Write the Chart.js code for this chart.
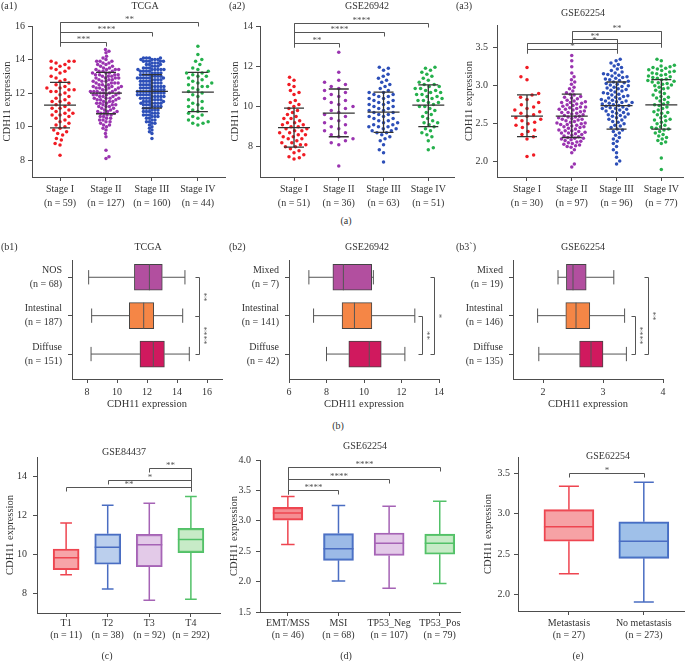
<!DOCTYPE html>
<html>
<head>
<meta charset="utf-8">
<title>CDH11 expression</title>
<script src="https://cdn.jsdelivr.net/npm/chart.js@4.4.1/dist/chart.umd.min.js"></script>
<style>
  body { margin: 0; background: #fff; }
  #page { position: relative; width: 685px; height: 661px; overflow: hidden; background: #fff;
          font-family: "Liberation Serif", "DejaVu Serif", serif; color: #333; }
  #page canvas { position: absolute; }
  .lbl { position: absolute; white-space: nowrap; line-height: 1; }
</style>
</head>
<body>
<div id="page"></div>
<script>
// ---------- data ----------
const stageNames = ['Stage I', 'Stage II', 'Stage III', 'Stage IV'];
const stageColors = ['#f01c24', '#9a34b0', '#2d4fb8', '#25b04c'];

// (a1) TCGA
const a1Counts = [59, 127, 160, 44];
const a1StageI = [8.3,8.9,9.0,9.2,9.3,9.5,9.6,9.7,9.8,9.9,10.0,10.1,10.2,10.3,10.4,10.5,10.6,10.7,10.7,10.8,10.8,10.9,11.0,11.1,11.1,11.2,11.3,11.4,11.5,11.5,11.6,11.7,11.8,11.9,12.0,12.1,12.1,12.2,12.2,12.3,12.3,12.4,12.5,12.6,12.7,12.8,12.9,13.0,13.2,13.3,13.4,13.5,13.5,13.6,13.7,13.8,13.9,13.9,13.9];
const a1StageII = [8.1,8.2,8.6,9.4,9.6,9.8,9.9,10.0,10.1,10.1,10.2,10.3,10.3,10.4,10.4,10.5,10.5,10.6,10.6,10.7,10.7,10.8,10.8,10.8,10.9,10.9,10.9,
  11.0,11.0,11.1,11.1,11.2,11.2,11.2,11.3,11.3,11.3,11.4,11.4,11.4,11.5,11.5,11.5,11.6,11.6,11.6,11.7,11.7,11.7,11.7,11.8,11.8,11.8,11.9,11.9,11.9,11.9,
  12.0,12.0,12.0,12.0,12.1,12.1,12.1,12.1,12.2,12.2,12.2,12.3,12.3,12.3,12.3,12.4,12.4,12.4,12.4,12.5,12.5,12.5,12.6,12.6,12.6,12.6,12.7,12.7,12.7,12.8,12.8,12.8,12.9,12.9,12.9,12.9,
  13.0,13.0,13.0,13.1,13.1,13.1,13.1,13.2,13.2,13.2,13.3,13.3,13.3,13.4,13.4,13.4,13.4,13.5,13.5,13.6,13.6,13.7,13.7,13.8,13.8,13.9,13.9,13.9,14.0,14.1,14.2,14.4,14.5,14.6];
const a1StageIII = [9.3,9.6,9.7,9.8,9.9,10.0,10.1,10.2,10.2,10.3,10.3,10.4,10.4,10.5,10.5,10.6,10.6,10.6,10.7,10.7,10.7,10.8,10.8,10.8,10.9,10.9,10.9,
  11.0,11.0,11.0,11.1,11.1,11.1,11.2,11.2,11.2,11.2,11.3,11.3,11.3,11.4,11.4,11.4,11.4,11.4,
  11.5,11.5,11.5,11.5,11.6,11.6,11.6,11.6,11.7,11.7,11.7,11.7,11.8,11.8,11.8,11.8,11.8,11.9,11.9,11.9,11.9,11.9,
  12.0,12.0,12.0,12.0,12.0,12.1,12.1,12.1,12.1,12.1,12.2,12.2,12.2,12.2,12.2,12.3,12.3,12.3,12.3,12.4,12.4,12.4,12.4,12.4,
  12.5,12.5,12.5,12.5,12.6,12.6,12.6,12.6,12.7,12.7,12.7,12.7,12.8,12.8,12.8,12.8,12.9,12.9,12.9,12.9,12.9,12.9,
  13.0,13.0,13.0,13.0,13.1,13.1,13.1,13.1,13.2,13.2,13.2,13.2,13.3,13.3,13.3,13.3,13.4,13.4,13.4,13.4,13.4,13.4,
  13.5,13.5,13.5,13.6,13.6,13.6,13.7,13.7,13.7,13.8,13.8,13.8,13.9,13.9,13.9,13.9,13.9,14.0,14.0,14.0,14.0,14.1,14.1,14.1,14.1];
const a1StageIV = [10.1,10.2,10.2,10.3,10.4,10.5,10.6,10.7,10.8,10.9,11.0,11.1,11.2,11.3,11.4,11.5,11.6,11.8,11.9,
  12.0,12.1,12.2,12.3,12.4,12.4,12.5,12.6,12.6,12.7,12.8,12.9,13.0,13.0,13.1,13.2,13.2,13.3,13.4,13.5,13.7,13.9,14.0,14.3,14.8];
const a1Mean = [11.28, 12.0, 12.1, 12.06];
const a1SdLo = [9.93, 10.77, 11.1, 10.9];
const a1SdHi = [12.64, 13.23, 13.1, 13.23];
const a1Sig = [{ from: 0, to: 1, at: 15.04, text: '***' }, { from: 0, to: 2, at: 15.64, text: '****' }, { from: 0, to: 3, at: 16.24, text: '**' }];

// (a2) GSE26942
const a2Counts = [51, 36, 63, 51];
const a2StageI = [7.4,7.45,7.5,7.6,7.7,7.8,7.9,8.0,8.0,8.1,8.1,8.2,8.2,8.3,8.4,8.4,8.5,8.5,8.6,8.6,8.7,8.7,8.8,8.8,8.9,8.9,
  9.0,9.0,9.1,9.1,9.2,9.2,9.3,9.4,9.4,9.5,9.6,9.7,9.8,9.9,10.0,10.1,10.2,10.3,10.6,10.7,10.8,11.0,11.1,11.3,11.45];
const a2StageII = [7.05,8.1,8.2,8.3,8.4,8.5,8.6,8.7,8.8,8.9,9.0,9.1,9.2,9.3,9.4,9.5,9.6,9.7,9.8,9.9,10.0,10.1,10.2,10.3,10.4,10.5,10.6,10.7,10.8,10.9,11.0,11.1,11.2,11.3,11.7,12.7];
const a2StageIII = [7.25,7.7,7.85,8.1,8.3,8.4,8.5,8.6,8.7,8.7,8.8,8.8,8.9,8.9,9.0,9.0,9.0,9.1,9.1,9.2,9.2,9.3,9.3,9.4,9.4,9.5,9.5,9.6,9.6,9.7,9.7,9.8,9.8,9.9,9.9,
  10.0,10.0,10.1,10.1,10.2,10.2,10.3,10.3,10.4,10.4,10.5,10.5,10.6,10.6,10.7,10.7,10.8,10.9,11.0,11.1,11.2,11.3,11.4,11.5,11.6,11.8,11.9,11.95];
const a2StageIV = [7.85,7.95,8.3,8.5,8.6,8.7,8.8,8.9,9.0,9.1,9.2,9.2,9.3,9.4,9.5,9.6,9.7,9.8,9.9,10.0,10.0,10.1,10.2,10.2,10.3,10.3,10.4,10.4,10.5,10.5,
  10.6,10.6,10.7,10.7,10.8,10.8,10.9,10.9,11.0,11.0,11.1,11.1,11.2,11.3,11.4,11.5,11.6,11.7,11.8,11.9,11.95];
const a2Mean = [8.95, 9.67, 9.72, 10.07];
const a2SdLo = [7.98, 8.5, 8.72, 9.0];
const a2SdHi = [9.92, 10.87, 10.72, 11.08];
const a2Sig = [{ from: 0, to: 1, at: 13.15, text: '**' }, { from: 0, to: 2, at: 13.7, text: '****' }, { from: 0, to: 3, at: 14.15, text: '****' }];

// (a3) GSE62254
const a3Counts = [30, 97, 96, 77];
const a3StageI = [2.07,2.09,2.30,2.33,2.36,2.40,2.42,2.45,2.48,2.50,2.52,2.54,2.56,2.58,2.60,2.62,2.64,2.66,2.68,2.70,2.72,2.75,2.78,2.82,2.85,2.88,2.90,3.08,3.12,3.24];
const a3StageII = [1.93,1.97,2.12,2.16,2.19,2.20,2.21,2.22,2.23,2.24,2.25,2.26,2.27,2.28,2.29,
  2.30,2.31,2.31,2.32,2.33,2.34,2.35,2.36,2.37,2.38,2.38,2.39,2.40,2.41,2.41,2.42,2.43,2.44,2.45,2.46,2.46,2.47,2.48,2.49,2.49,
  2.50,2.51,2.51,2.52,2.53,2.54,2.55,2.56,2.56,2.57,2.58,2.59,2.59,2.60,2.61,2.62,2.63,2.64,2.65,2.65,2.66,2.67,2.68,2.69,2.69,
  2.70,2.71,2.72,2.72,2.73,2.74,2.75,2.76,2.77,2.78,2.78,2.79,2.80,2.81,2.83,2.84,2.85,2.86,2.88,2.89,
  2.91,2.93,2.96,2.98,3.02,3.05,3.08,3.12,3.17,3.25,3.33,3.40];
const a3StageIII = [1.97,2.01,2.06,2.12,2.16,2.20,2.24,2.27,2.30,2.32,2.35,2.38,2.40,2.42,2.43,2.45,2.47,2.48,2.50,2.52,
  2.53,2.55,2.56,2.58,2.59,2.60,2.61,2.62,2.63,2.64,2.65,2.66,2.67,2.68,2.69,2.70,2.70,2.71,2.72,2.73,
  2.74,2.74,2.75,2.76,2.77,2.78,2.78,2.79,2.80,2.80,2.81,2.82,2.83,2.84,2.85,2.86,2.87,2.88,2.89,2.90,
  2.91,2.92,2.93,2.94,2.95,2.96,2.97,2.98,2.99,3.00,3.01,3.02,3.03,3.04,3.05,3.06,3.07,3.08,3.09,3.10,
  3.11,3.12,3.13,3.14,3.15,3.16,3.17,3.18,3.20,3.22,3.24,3.26,3.28,3.30,3.33,3.35];
const a3StageIV = [1.90,2.05,2.24,2.26,2.28,2.30,2.32,2.34,2.36,2.38,2.40,2.42,2.43,2.44,2.45,2.46,2.48,2.50,2.52,2.54,2.55,2.56,
  2.58,2.60,2.62,2.64,2.65,2.66,2.68,2.70,2.72,2.74,2.75,2.76,2.78,2.80,2.82,2.84,2.85,2.86,2.88,2.90,2.92,2.94,2.96,
  2.97,2.98,3.00,3.01,3.02,3.03,3.04,3.05,3.06,3.07,3.08,3.09,3.10,3.11,3.12,3.13,3.14,3.15,3.16,3.17,
  3.18,3.19,3.20,3.21,3.22,3.23,3.24,3.25,3.26,3.27,3.33,3.35];
const a3Mean = [2.6, 2.6, 2.74, 2.75];
const a3SdLo = [2.33, 2.32, 2.43, 2.43];
const a3SdHi = [2.88, 2.89, 3.05, 3.08];
const a3Sig = [{ from: 1, to: 3, at: 3.72, text: '**' }, { from: 1, to: 2, at: 3.62, text: '**' },
               { from: 0, to: 3, at: 3.566, text: '*' }, { from: 0, to: 2, at: 3.48, text: '*' }];

// (b) Lauren classification, horizontal boxes
const laurenColors = ['#b24f9f', '#f58646', '#d0195e'];
const b1Groups = ['NOS', 'Intestinal', 'Diffuse'];
const b1Counts = [68, 187, 151];
const b1Min = [8.11, 8.31, 8.27], b1Q1 = [11.16, 10.82, 11.53], b1Med = [12.16, 11.78, 12.42], b1Q3 = [13.02, 12.45, 13.16], b1Max = [14.53, 14.38, 14.82];
const b1Sig = [{ from: 0, to: 1, at: 15.45, text: '**' }, { from: 1, to: 2, at: 15.45, text: '****' }];

const b2Groups = ['Mixed', 'Intestinal', 'Diffuse'];
const b2Counts = [7, 141, 42];
const b2Min = [7.06, 7.31, 8.0], b2Q1 = [8.34, 8.83, 9.19], b2Med = [8.9, 9.49, 10.28], b2Q3 = [10.41, 10.42, 10.92], b2Max = [10.5, 12.71, 12.18];
const b2Sig = [{ from: 0, to: 2, at: 13.73, text: '*' }, { from: 1, to: 2, at: 13.12, text: '**' }];

const b3Groups = ['Mixed', 'Intestinal', 'Diffuse'];
const b3Counts = [19, 146, 135];
const b3Min = [2.25, 1.91, 1.93], b3Q1 = [2.39, 2.38, 2.61], b3Med = [2.5, 2.55, 2.8], b3Q3 = [2.72, 2.78, 3.0], b3Max = [3.18, 3.36, 3.39];
const b3Sig = [{ from: 0, to: 2, at: 3.75, text: '**' }, { from: 1, to: 2, at: 3.54, text: '****' }];

// (c) GSE84437 T stage
const cGroups = ['T1', 'T2', 'T3', 'T4'];
const cCounts = [11, 38, 92, 292];
const cMin = [8.96, 8.23, 7.65, 7.7], cQ1 = [9.22, 9.5, 9.37, 10.1], cMed = [9.83, 10.37, 10.5, 10.77], cQ3 = [10.28, 11.06, 11.03, 11.34], cMax = [11.62, 12.52, 12.63, 12.97];
const cSig = [{ from: 2, to: 3, at: 14.44, text: '**' }, { from: 1, to: 3, at: 13.82, text: '*' }, { from: 0, to: 3, at: 13.46, text: '**' }];

// (d) GSE62254 molecular subtype
const dGroups = ['EMT/MSS', 'MSI', 'TP53_Neg', 'TP53_Pos'];
const dCounts = [46, 68, 107, 79];
const dMin = [2.61, 2.01, 1.89, 1.97], dQ1 = [3.01, 2.35, 2.43, 2.45], dMed = [3.13, 2.54, 2.63, 2.63], dQ3 = [3.22, 2.79, 2.8, 2.78], dMax = [3.4, 3.25, 3.24, 3.32];
const dSig = [{ from: 0, to: 3, at: 3.885, text: '****' }, { from: 0, to: 2, at: 3.69, text: '****' }, { from: 0, to: 1, at: 3.51, text: '****' }];

// (e) GSE62254 metastasis
const eGroups = ['Metastasis', 'No metastasis'];
const eCounts = [27, 273];
const eMin = [2.26, 1.91], eQ1 = [2.66, 2.45], eMed = [2.84, 2.66], eQ3 = [3.05, 2.9], eMax = [3.34, 3.39];
const eSig = [{ from: 0, to: 1, at: 3.5, text: '*' }];

const boxStroke = ['#ee4550', '#4a6dc2', '#a563b5', '#52c168'];
const boxFillC = ['rgba(240,90,96,0.55)', 'rgba(120,160,220,0.5)', 'rgba(200,150,210,0.5)', 'rgba(130,210,130,0.45)'];
const boxFillD = ['rgba(240,80,88,0.65)', 'rgba(90,140,215,0.6)', 'rgba(200,150,210,0.5)', 'rgba(130,210,130,0.45)'];
const boxFillE = ['rgba(240,100,105,0.6)', 'rgba(80,140,215,0.55)'];

// ---------- helpers ----------
const AXIS = '#4d4d4d';
const TXT = '#333';
const FONT = '"Liberation Serif", "DejaVu Serif", serif';
Chart.defaults.font.family = FONT;
Chart.defaults.font.size = 10;
Chart.defaults.color = TXT;

const page = document.getElementById('page');

function makeCanvas(left, top, w, h) {
    const c = document.createElement('canvas');
    c.width = w; c.height = h;
    c.style.left = left + 'px'; c.style.top = top + 'px';
    c.style.width = w + 'px'; c.style.height = h + 'px';
    page.appendChild(c);
    return c;
}

function addText(txt, x, y, align, size) {
    const d = document.createElement('div');
    d.className = 'lbl';
    d.textContent = txt;
    d.style.left = x + 'px';
    d.style.top = y + 'px';
    d.style.fontSize = (size || 10) + 'px';
    d.style.transform = align === 'l' ? 'translate(0,-50%)' : 'translate(-50%,-50%)';
    page.appendChild(d);
}

// linear axis with fixed ticks and a forced thickness
function linScale(o) {
    return {
        type: 'linear', min: o.min, max: o.max, reverse: !!o.reverse,
        offset: false, beginAtZero: false,
        border: { display: true, color: AXIS, width: 1 },
        grid: { display: true, drawOnChartArea: false, drawTicks: true, tickLength: 4, color: AXIS, offset: false },
        ticks: { padding: o.tickPad, color: TXT, autoSkip: false, maxRotation: 0,
                 font: { size: 10, lineHeight: o.lh || 1.2 }, callback: o.fmt },
        title: o.title ? { display: true, text: o.title, color: TXT, font: { size: 10.5 }, padding: o.titlePad }
                       : { display: false },
        afterBuildTicks: s => { s.ticks = o.ticks.map(v => ({ value: v })); },
        afterFit: s => { if (s.isHorizontal()) s.height = o.size; else s.width = o.size; }
    };
}

function catLabel(names, counts) {
    return v => [names[v], '(n = ' + counts[v] + ')'];
}

// significance brackets, drawn through the chart scales
function bracketPlugin(items, dir) {
    return {
        id: 'brackets',
        afterDraw(chart) {
            const ctx = chart.ctx, xs = chart.scales.x, ys = chart.scales.y;
            const drop = 4;
            ctx.save();
            ctx.strokeStyle = '#555';
            ctx.fillStyle = '#555';
            ctx.lineWidth = 1;
            ctx.font = '9px ' + FONT;
            ctx.textAlign = 'center';
            ctx.textBaseline = 'alphabetic';
            const ends = {};
            items.forEach(b => {
                if (dir === 'v') {
                    const x = Math.round(xs.getPixelForValue(b.at)) + 0.5;
                    const y1 = Math.round(ys.getPixelForValue(b.from)) + 0.5;
                    const y2 = Math.round(ys.getPixelForValue(b.to)) + 0.5;
                    ctx.beginPath();
                    ctx.moveTo(x - drop, y1); ctx.lineTo(x, y1); ctx.lineTo(x, y2); ctx.lineTo(x - drop, y2);
                    ctx.stroke();
                    ctx.save();
                    ctx.translate(x + 1, (y1 + y2) / 2);
                    ctx.rotate(Math.PI / 2);
                    ctx.fillText(b.text, 0, 0);
                    ctx.restore();
                } else {
                    const y = Math.round(ys.getPixelForValue(b.at)) + 0.5;
                    const x1 = Math.round(xs.getPixelForValue(b.from)) + 0.5;
                    const x2 = Math.round(xs.getPixelForValue(b.to)) + 0.5;
                    ctx.beginPath();
                    ctx.moveTo(x1, y + drop); ctx.lineTo(x1, y); ctx.lineTo(x2, y); ctx.lineTo(x2, y + drop);
                    ctx.stroke();
                    ctx.fillText(b.text, (x1 + x2) / 2, y - 0.5);
                    [x1, x2].forEach(x => { (ends[x] = ends[x] || []).push(y); });
                }
            });
            // shared ends drawn as one continuous drop
            Object.keys(ends).forEach(k => {
                const list = ends[k];
                if (list.length < 2) return;
                ctx.beginPath();
                ctx.moveTo(+k, Math.min(...list));
                ctx.lineTo(+k, Math.max(...list) + drop);
                ctx.stroke();
            });
            ctx.restore();
        }
    };
}

// mean +/- SD bars over the dots
function meanSdPlugin(mean, lo, hi) {
    return {
        id: 'meanSd',
        afterDatasetsDraw(chart) {
            const ctx = chart.ctx, xs = chart.scales.x, ys = chart.scales.y;
            ctx.save();
            ctx.strokeStyle = '#333';
            ctx.lineWidth = 1.3;
            mean.forEach((m, i) => {
                const cx = xs.getPixelForValue(i);
                const ym = ys.getPixelForValue(m), yl = ys.getPixelForValue(lo[i]), yh = ys.getPixelForValue(hi[i]);
                ctx.beginPath();
                ctx.moveTo(cx - 16, ym); ctx.lineTo(cx + 16, ym);
                ctx.moveTo(cx, yl); ctx.lineTo(cx, yh);
                ctx.moveTo(cx - 10, yl); ctx.lineTo(cx + 10, yl);
                ctx.moveTo(cx - 10, yh); ctx.lineTo(cx + 10, yh);
                ctx.stroke();
            });
            ctx.restore();
        }
    };
}

// whiskers and medians on top of the floating bars
function whiskerPlugin(mn, md, mx, q1, q3, colors, lw, capRatio) {
    return {
        id: 'whiskers',
        afterDatasetsDraw(chart) {
            const ctx = chart.ctx;
            const horiz = chart.options.indexAxis === 'y';
            const vs = horiz ? chart.scales.x : chart.scales.y;
            const meta = chart.getDatasetMeta(0);
            ctx.save();
            ctx.lineWidth = lw;
            meta.data.forEach((el, i) => {
                const p = el.getProps(['x', 'y', 'width', 'height'], true);
                ctx.strokeStyle = Array.isArray(colors) ? colors[i] : colors;
                const a = vs.getPixelForValue(mn[i]), b = vs.getPixelForValue(mx[i]);
                const l = vs.getPixelForValue(q1[i]), h = vs.getPixelForValue(q3[i]);
                const m = vs.getPixelForValue(md[i]);
                ctx.beginPath();
                if (horiz) {
                    const c = p.y, t = p.height, cap = t * capRatio / 2;
                    ctx.moveTo(a, c); ctx.lineTo(l, c);
                    ctx.moveTo(h, c); ctx.lineTo(b, c);
                    ctx.moveTo(a, c - cap); ctx.lineTo(a, c + cap);
                    ctx.moveTo(b, c - cap); ctx.lineTo(b, c + cap);
                    ctx.moveTo(m, c - t / 2); ctx.lineTo(m, c + t / 2);
                } else {
                    const c = p.x, t = p.width, cap = t * capRatio / 2;
                    ctx.moveTo(c, a); ctx.lineTo(c, l);
                    ctx.moveTo(c, h); ctx.lineTo(c, b);
                    ctx.moveTo(c - cap, a); ctx.lineTo(c + cap, a);
                    ctx.moveTo(c - cap, b); ctx.lineTo(c + cap, b);
                    ctx.moveTo(c - t / 2, m); ctx.lineTo(c + t / 2, m);
                }
                ctx.stroke();
            });
            ctx.restore();
        }
    };
}

// one beeswarm pass in pixel space for spacing d
function swarmOffsets(pys, d) {
    const placed = [];
    const out = new Array(pys.length);
    const order = pys.map((v, i) => i).sort((p, q) => pys[q] - pys[p]);
    order.forEach((i, k) => {
        const py = pys[i];
        const near = placed.filter(p => Math.abs(p.y - py) < d);
        const cands = [0];
        near.forEach(p => {
            const w = Math.sqrt(d * d - (p.y - py) * (p.y - py));
            cands.push(p.x - w, p.x + w);
        });
        const pref = k % 2 ? 1 : -1;
        cands.sort((u, v) => (Math.abs(u) - Math.abs(v)) || (Math.sign(v) === pref) - (Math.sign(u) === pref));
        const px = cands.find(c => near.every(p => (p.x - c) * (p.x - c) + (p.y - py) * (p.y - py) >= d * d - 0.01));
        placed.push({ x: px, y: py });
        out[i] = px;
    });
    return out;
}

// spread every group to roughly the same swarm width, like the original figure
function swarm(chart, groups, halfWidth) {
    const xs = chart.scales.x, ys = chart.scales.y;
    const pxPerX = xs.getPixelForValue(1) - xs.getPixelForValue(0);
    groups.forEach((vals, gi) => {
        const pys = vals.map(v => ys.getPixelForValue(v));
        let best = null, bestErr = Infinity;
        for (let d = 2.8; d <= 9; d += 0.2) {
            const offs = swarmOffsets(pys, d);
            const m = Math.max(...offs.map(Math.abs));
            const err = Math.abs(m - halfWidth);
            if (err < bestErr) { bestErr = err; best = offs; }
        }
        const ds = chart.data.datasets[gi];
        best.forEach((o, i) => { ds.data[i].x = gi + o / pxPerX; });
    });
    chart.update('none');
}

function baseOptions(pad) {
    return {
        responsive: false, animation: false, devicePixelRatio: 1,
        layout: { padding: pad },
        plugins: { legend: { display: false }, tooltip: { enabled: false } }
    };
}

// ---------- dot plots (a1-a3) ----------
function dotPanel(p) {
    const cv = makeCanvas(p.left, p.top, p.w, p.h);
    const opts = baseOptions(p.pad);
    opts.scales = {
        x: linScale({ min: p.xMin, max: p.xMax, ticks: [0, 1, 2, 3], size: 38, tickPad: 1, lh: 1.4,
                      fmt: catLabel(stageNames, p.counts) }),
        y: linScale({ min: p.yMin, max: p.yMax, ticks: p.yTicks, size: p.yWidth, tickPad: p.yTickPad,
                      fmt: v => v.toFixed(p.dec), title: 'CDH11 expression', titlePad: { top: p.titlePad, bottom: 0 } })
    };
    const chart = new Chart(cv, {
        type: 'scatter',
        data: {
            datasets: p.groups.map((vals, gi) => ({
                data: vals.map(v => ({ x: gi, y: v })),
                pointRadius: 1.75, pointHoverRadius: 1.75, pointBorderWidth: 0,
                pointBackgroundColor: stageColors[gi], showLine: false
            }))
        },
        options: opts,
        plugins: [meanSdPlugin(p.mean, p.lo, p.hi), bracketPlugin(p.sig, 'h')]
    });
    swarm(chart, p.groups, p.half);
}

dotPanel({ left: 0, top: 0, w: 228, h: 215, pad: { top: 26, right: 3, left: 0, bottom: 0 },
    groups: [a1StageI, a1StageII, a1StageIII, a1StageIV], counts: a1Counts,
    xMin: -0.61, xMax: 3.59, yMin: 7, yMax: 16, yTicks: [8, 10, 12, 14, 16], dec: 0,
    yWidth: 32, yTickPad: 3, titlePad: 1, half: 14,
    mean: a1Mean, lo: a1SdLo, hi: a1SdHi, sig: a1Sig });

dotPanel({ left: 228, top: 0, w: 228, h: 215, pad: { top: 26, right: 1, left: 0, bottom: 0 },
    groups: [a2StageI, a2StageII, a2StageIII, a2StageIV], counts: a2Counts,
    xMin: -0.76, xMax: 3.58, yMin: 6.5, yMax: 14, yTicks: [8, 10, 12, 14], dec: 0,
    yWidth: 32, yTickPad: 3, titlePad: 1, half: 14,
    mean: a2Mean, lo: a2SdLo, hi: a2SdHi, sig: a2Sig });

dotPanel({ left: 455, top: 0, w: 230, h: 215, pad: { top: 25, right: 1, left: 0, bottom: 0 },
    groups: [a3StageI, a3StageII, a3StageIII, a3StageIV], counts: a3Counts,
    xMin: -0.67, xMax: 3.49, yMin: 1.8, yMax: 3.8, yTicks: [2.0, 2.5, 3.0, 3.5], dec: 1,
    yWidth: 42, yTickPad: 5, titlePad: 8, half: 14,
    mean: a3Mean, lo: a3SdLo, hi: a3SdHi, sig: a3Sig });

// ---------- box plots ----------
function boxPanel(p) {
    const cv = makeCanvas(p.left, p.top, p.w, p.h);
    const horiz = !!p.horizontal;
    const data = p.q1.map((q, i) => horiz ? { y: i, x: [q, p.q3[i]] } : { x: i, y: [q, p.q3[i]] });
    const opts = baseOptions(p.pad);
    opts.indexAxis = horiz ? 'y' : 'x';
    const idx = [...p.names.keys()];
    const catAxis = linScale({ min: p.iMin, max: p.iMax, reverse: horiz, ticks: idx, size: p.iSize, tickPad: p.iTickPad,
                               lh: horiz ? 1.4 : 1.2, fmt: catLabel(p.names, p.counts) });
    const valAxis = linScale({ min: p.vMin, max: p.vMax, ticks: p.vTicks, size: p.vSize, tickPad: p.vTickPad,
                               fmt: v => v.toFixed(p.dec), title: 'CDH11 expression', titlePad: p.titlePad });
    opts.scales = horiz ? { x: valAxis, y: catAxis } : { x: catAxis, y: valAxis };
    new Chart(cv, {
        type: 'bar',
        data: {
            datasets: [{
                data, backgroundColor: p.fill, borderColor: p.border, borderWidth: p.lw,
                borderSkipped: false, barThickness: p.thick
            }]
        },
        options: opts,
        plugins: [whiskerPlugin(p.min, p.med, p.max, p.q1, p.q3, p.whisk, p.lw, p.cap), bracketPlugin(p.sig, horiz ? 'v' : 'h')]
    });
}

// (b1)-(b3)
const bCommon = { top: 240, h: 175, horizontal: true, iMin: -0.45, iMax: 2.65, iTickPad: 6, vSize: 36, vTickPad: 3,
                  titlePad: { top: 0, bottom: 4.7 }, fill: laurenColors, border: '#444', whisk: '#555', lw: 1, thick: 26, cap: 0.55 };
boxPanel(Object.assign({}, bCommon, { left: 0, w: 228, pad: { top: 15, right: 6, left: 0, bottom: 0 }, iSize: 72,
    names: b1Groups, counts: b1Counts, vMin: 7, vMax: 17, vTicks: [8, 10, 12, 14, 16], dec: 0,
    min: b1Min, q1: b1Q1, med: b1Med, q3: b1Q3, max: b1Max, sig: b1Sig }));
boxPanel(Object.assign({}, bCommon, { left: 228, w: 228, pad: { top: 15, right: 17, left: 0, bottom: 0 }, iSize: 61,
    names: b2Groups, counts: b2Counts, vMin: 6, vMax: 14, vTicks: [6, 8, 10, 12, 14], dec: 0,
    min: b2Min, q1: b2Q1, med: b2Med, q3: b2Q3, max: b2Max, sig: b2Sig }));
boxPanel(Object.assign({}, bCommon, { left: 455, w: 230, pad: { top: 15, right: 22, left: 0, bottom: 0 }, iSize: 58,
    names: b3Groups, counts: b3Counts, vMin: 1.5, vMax: 4, vTicks: [2, 3, 4], dec: 0,
    min: b3Min, q1: b3Q1, med: b3Med, q3: b3Q3, max: b3Max, sig: b3Sig }));

// (c) GSE84437
boxPanel({ left: 0, top: 440, w: 228, h: 221, pad: { top: 17, right: 8, left: 0, bottom: 0 },
    names: cGroups, counts: cCounts, iMin: -0.7, iMax: 3.7, iSize: 48, iTickPad: 0,
    vMin: 7, vMax: 15, vTicks: [8, 10, 12, 14], dec: 0, vSize: 37, vTickPad: 6, titlePad: { top: 4, bottom: 0 },
    min: cMin, q1: cQ1, med: cMed, q3: cQ3, max: cMax, sig: cSig,
    fill: boxFillC, border: boxStroke, whisk: boxStroke, lw: 1.5, thick: 26, cap: 0.45 });

// (d) GSE62254 subtypes
boxPanel({ left: 228, top: 440, w: 240, h: 221, pad: { top: 20, right: 8, left: 0, bottom: 0 },
    names: dGroups, counts: dCounts, iMin: -0.55, iMax: 3.4, iSize: 49, iTickPad: 1,
    vMin: 1.5, vMax: 4.0, vTicks: [1.5, 2.0, 2.5, 3.0, 3.5, 4.0], dec: 1, vSize: 32, vTickPad: 5, titlePad: { top: 0, bottom: 0 },
    min: dMin, q1: dQ1, med: dMed, q3: dQ3, max: dMax, sig: dSig,
    fill: boxFillD, border: boxStroke, whisk: boxStroke, lw: 1.5, thick: 30, cap: 0.45 });

// (e) GSE62254 metastasis
boxPanel({ left: 455, top: 440, w: 230, h: 221, pad: { top: 17, right: 0, left: 0, bottom: 0 },
    names: eGroups, counts: eCounts, iMin: -0.68, iMax: 1.55, iSize: 50, iTickPad: 2,
    vMin: 1.8, vMax: 3.7, vTicks: [2.0, 2.5, 3.0, 3.5], dec: 1, vSize: 63, vTickPad: 4, titlePad: { top: 27, bottom: 0 },
    min: eMin, q1: eQ1, med: eMed, q3: eQ3, max: eMax, sig: eSig,
    fill: boxFillE, border: [boxStroke[0], boxStroke[1]], whisk: [boxStroke[0], boxStroke[1]], lw: 1.5, thick: 50, cap: 0.4 });

// ---------- panel titles and letters ----------
[
    ['(a1)', 1, 6, 'l'], ['TCGA', 145, 6, 'c'],
    ['(a2)', 229, 6, 'l'], ['GSE26942', 367, 6, 'c'],
    ['(a3)', 456, 6, 'l'], ['GSE62254', 583, 13, 'c'],
    ['(a)', 346, 221, 'c'],
    ['(b1)', 1, 247, 'l'], ['TCGA', 148, 247, 'c'],
    ['(b2)', 229, 247, 'l'], ['GSE26942', 367, 247, 'c'],
    ['(b3`)', 456, 247, 'l'], ['GSE62254', 583, 247, 'c'],
    ['(b)', 338, 426, 'c'],
    ['GSE84437', 124, 452, 'c'], ['GSE62254', 365, 446, 'c'], ['GSE62254', 608, 456, 'c'],
    ['(c)', 107, 656, 'c'], ['(d)', 346, 656, 'c'], ['(e)', 578, 656, 'c']
].forEach(t => addText(t[0], t[1], t[2], t[3]));
</script>
</body>
</html>
